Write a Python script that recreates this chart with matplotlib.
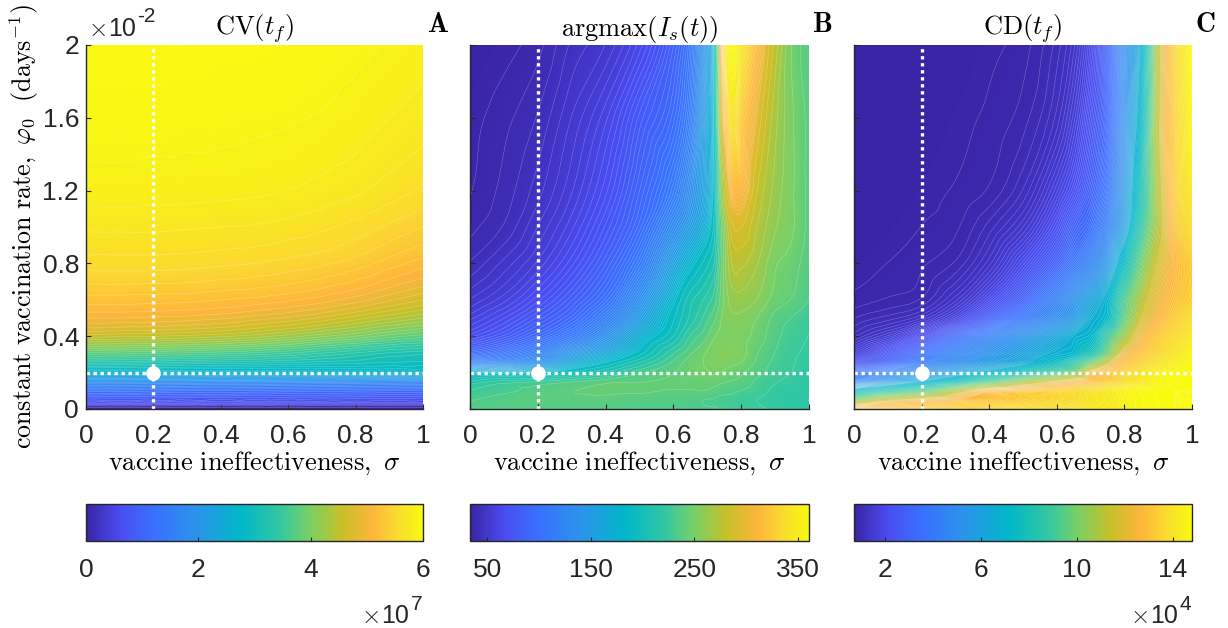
import numpy as np
import matplotlib
matplotlib.use("Agg")
import matplotlib.pyplot as plt
import matplotlib.tri as mtri
from matplotlib.colors import LinearSegmentedColormap, Normalize
from matplotlib.cm import ScalarMappable

plt.rcParams['font.family'] = ['Liberation Sans', 'DejaVu Sans']
plt.rcParams['mathtext.fontset'] = 'cm'

W, H = 1228, 628
DARK = '#262626'

cmap_colors = ['#3a24a6', '#4a4cf0', '#3a70ff', '#2a94ea', '#00b8c8',
               '#35c8a0', '#76d068', '#c8c028', '#feb53c', '#fad930', '#f8fa10']
cmap_stops = [0, 0.10, 0.20, 0.33, 0.46, 0.58, 0.66, 0.76, 0.85, 0.92, 1]
cmap = LinearSegmentedColormap.from_list('custom', list(zip(cmap_stops, cmap_colors)), N=512)

# CV(t_f), units of 1e7
sigma_a = [0, .1, .2, .3, .4, .5, .6, .7, .8, .9, 1]
phi_a = [0, .03, .06, .1, .15, .2, .25, .3, .4, .5, .6, .8, 1, 1.2, 1.6, 2]
cv_values = [
    [.05, .05, .05, .05, .05, .05, .05, .05, .05, .05, .05],
    [.45, .45, .45, .45, .44, .44, .43, .42, .41, .40, .40],
    [.80, .80, .80, .78, .77, .76, .75, .74, .73, .72, .70],
    [1.25, 1.25, 1.22, 1.20, 1.20, 1.18, 1.16, 1.14, 1.12, 1.10, 1.08],
    [1.85, 1.85, 1.83, 1.82, 1.80, 1.80, 1.78, 1.76, 1.75, 1.72, 1.70],
    [2.55, 2.55, 2.54, 2.54, 2.54, 2.55, 2.55, 2.56, 2.57, 2.58, 2.60],
    [3.20, 3.18, 3.15, 3.12, 3.10, 3.08, 3.05, 3.02, 3.00, 2.97, 2.95],
    [3.70, 3.68, 3.65, 3.62, 3.58, 3.52, 3.45, 3.35, 3.25, 3.15, 3.10],
    [4.55, 4.52, 4.50, 4.47, 4.42, 4.35, 4.25, 4.12, 4.00, 3.85, 3.75],
    [5.00, 5.00, 4.98, 4.96, 4.92, 4.85, 4.78, 4.68, 4.55, 4.42, 4.30],
    [5.25, 5.25, 5.24, 5.23, 5.20, 5.17, 5.12, 5.05, 4.95, 4.82, 4.70],
    [5.55, 5.55, 5.55, 5.54, 5.52, 5.50, 5.46, 5.42, 5.35, 5.25, 5.15],
    [5.72, 5.72, 5.72, 5.71, 5.70, 5.69, 5.66, 5.62, 5.56, 5.48, 5.40],
    [5.85, 5.85, 5.84, 5.84, 5.83, 5.82, 5.80, 5.76, 5.72, 5.65, 5.58],
    [5.94, 5.94, 5.94, 5.93, 5.93, 5.92, 5.91, 5.89, 5.85, 5.80, 5.75],
    [5.98, 5.98, 5.98, 5.98, 5.97, 5.97, 5.96, 5.95, 5.93, 5.89, 5.85],
]

# argmax(I_s(t)), days
sigma_b = [0, .1, .2, .3, .4, .5, .6, .65, .7, .72, .74, .77, .8, .85, .9, .95, 1]
phi_b = [0, .05, .1, .15, .2, .25, .3, .4, .5, .6, .8, 1, 1.2, 1.6, 2]
peak_values = [
    [236, 236, 236, 236, 236, 236, 235, 234, 233, 233, 232, 230, 228, 226, 222, 220, 218],
    [232, 236, 238, 238, 238, 236, 235, 234, 232, 232, 230, 228, 226, 224, 220, 218, 216],
    [225, 230, 236, 240, 242, 242, 240, 240, 240, 238, 236, 235, 232, 228, 222, 220, 218],
    [210, 220, 225, 232, 238, 240, 242, 244, 244, 244, 242, 240, 238, 230, 225, 222, 218],
    [175, 178, 180, 195, 210, 230, 240, 245, 248, 250, 248, 245, 242, 235, 228, 224, 220],
    [125, 128, 140, 165, 185, 210, 235, 245, 250, 252, 252, 250, 248, 238, 230, 225, 220],
    [95, 105, 120, 145, 165, 190, 225, 240, 250, 252, 255, 254, 252, 240, 232, 226, 222],
    [68, 78, 92, 110, 135, 170, 200, 225, 240, 248, 250, 252, 252, 245, 235, 228, 224],
    [57, 66, 78, 92, 115, 150, 190, 210, 230, 238, 248, 255, 255, 248, 238, 232, 226],
    [50, 57, 68, 82, 100, 135, 180, 205, 220, 228, 243, 260, 262, 256, 245, 240, 232],
    [42, 48, 56, 68, 85, 110, 155, 178, 198, 208, 238, 272, 275, 265, 250, 245, 235],
    [38, 42, 50, 60, 75, 95, 130, 150, 175, 195, 238, 285, 290, 272, 258, 250, 238],
    [36, 40, 46, 55, 68, 88, 112, 135, 165, 188, 250, 305, 310, 280, 262, 250, 238],
    [35, 38, 42, 50, 60, 78, 95, 115, 160, 185, 280, 340, 325, 295, 268, 250, 238],
    [33, 35, 38, 45, 50, 62, 85, 105, 150, 183, 300, 360, 345, 312, 278, 248, 235],
]

# CD(t_f), units of 1e4
sigma_c = [0, .1, .2, .3, .4, .5, .6, .65, .7, .75, .8, .85, .9, .95, 1]
phi_c = [0, .05, .1, .15, .2, .25, .3, .4, .5, .6, .8, 1, 1.2, 1.6, 2]
cd_values = [
    [13.0, 13.3, 13.5, 13.6, 13.7, 13.9, 14.0, 14.1, 14.2, 14.3, 14.5, 14.7, 14.8, 14.8, 14.8],
    [10.0, 11.3, 12.0, 12.6, 13.0, 13.3, 13.6, 13.7, 14.0, 14.2, 14.5, 14.7, 14.8, 14.8, 14.8],
    [7.2, 8.2, 9.2, 10.8, 12.4, 13.0, 13.4, 13.6, 13.9, 14.2, 14.5, 14.7, 14.8, 14.8, 14.8],
    [4.5, 5.6, 6.6, 7.7, 9.2, 10.6, 11.8, 12.3, 12.8, 13.3, 13.8, 14.2, 14.6, 14.8, 14.8],
    [3.5, 4.4, 5.2, 6.0, 6.9, 7.9, 9.2, 9.9, 12.0, 13.0, 13.5, 14.0, 14.5, 14.7, 14.8],
    [2.3, 3.1, 4.1, 5.0, 5.7, 6.4, 7.6, 8.5, 9.9, 11.5, 12.9, 13.5, 14.0, 14.4, 14.7],
    [1.7, 2.5, 3.5, 4.5, 5.3, 6.0, 6.8, 7.1, 8.2, 9.9, 12.2, 13.1, 13.6, 14.1, 14.6],
    [1.15, 1.5, 2.2, 3.2, 4.3, 5.2, 6.1, 6.6, 7.0, 8.8, 10.6, 12.3, 13.2, 13.7, 14.2],
    [.93, 1.05, 1.25, 1.8, 2.8, 3.9, 5.0, 5.6, 6.5, 7.2, 9.5, 11.5, 12.6, 13.3, 13.8],
    [.81, .87, .95, 1.3, 2.0, 3.0, 4.4, 5.2, 6.0, 6.9, 9.2, 11.0, 12.2, 13.0, 13.4],
    [.74, .78, .84, .95, 1.3, 2.0, 3.0, 3.7, 4.5, 5.5, 7.5, 9.8, 11.6, 12.7, 13.3],
    [.71, .74, .78, .84, 1.05, 1.4, 2.2, 2.9, 3.4, 4.4, 5.9, 8.6, 11.0, 13.0, 13.8],
    [.7, .72, .75, .79, .87, 1.1, 1.7, 2.2, 2.9, 3.8, 5.5, 8.0, 11.0, 13.3, 14.2],
    [.7, .7, .72, .75, .8, .9, 1.2, 1.6, 2.3, 3.2, 5.0, 7.2, 11.2, 13.4, 14.6],
    [.7, .7, .7, .72, .76, .82, 1.05, 1.3, 1.9, 3.0, 4.9, 6.7, 11.0, 13.5, 14.8],
]

titles = [r'$\mathrm{CV}(t_f)$', r'$\mathrm{argmax}(I_s(t))$', r'$\mathrm{CD}(t_f)$']
letters = ['A', 'B', 'C']
x_ticks = [0, .2, .4, .6, .8, 1]
x_labels = ['0', '0.2', '0.4', '0.6', '0.8', '1']
y_ticks = [0, .4, .8, 1.2, 1.6, 2]
y_labels = ['0', '0.4', '0.8', '1.2', '1.6', '2']
baseline_sigma = 0.2
baseline_phi = 0.2

panels = [
    (sigma_a, phi_a, cv_values, 0, 6, 61, [0, 2, 4, 6]),
    (sigma_b, phi_b, peak_values, 33.5, 360.5, 121, [50, 150, 250, 350]),
    (sigma_c, phi_c, cd_values, 0.7, 14.8, 181, [2, 6, 10, 14]),
]
axes_left = [86, 470, 854]
axes_width = [337, 339, 338]
letter_x = [427, 812, 1195]
# value ranges with thinned contour lines, the steep bands smear white otherwise
thin_lines = [None, (185, 300, 3), (6.5, 11.5, 2)]


def box(left, top, right, bottom):
    return [left / W, 1 - bottom / H, (right - left) / W, (bottom - top) / H]


fig = plt.figure(figsize=(W / 100, H / 100), dpi=100)

for i, (sx, sy, z, vmin, vmax, nlev, cticks) in enumerate(panels):
    ax = fig.add_axes(box(axes_left[i], 45, axes_left[i] + axes_width[i], 409))
    xx, yy = np.meshgrid(sx, sy)
    triang = mtri.Triangulation(xx.ravel(), yy.ravel())
    # smooth the table for drawing, in log space so the low plateau does not ring
    log_z = np.log(np.array(z, dtype=float).ravel())
    smooth = mtri.CubicTriInterpolator(triang, log_z, kind='geom')
    fine_tri, fine_log = mtri.UniformTriRefiner(triang).refine_field(log_z, smooth, subdiv=3)
    fine_z = np.exp(fine_log)
    ax.tricontourf(fine_tri, fine_z, levels=np.linspace(vmin, vmax, 300), cmap=cmap, extend='both')
    line_levels = np.linspace(vmin, vmax, nlev)[1:]
    if thin_lines[i] is not None:
        low, high, step = thin_lines[i]
        keep = (line_levels < low) | (line_levels > high) | (np.arange(len(line_levels)) % step == 0)
        line_levels = line_levels[keep]
    ax.tricontour(fine_tri, fine_z, levels=line_levels, colors='white', linewidths=0.4, alpha=0.3)
    ax.plot([baseline_sigma, baseline_sigma], [0, 2], color='white', ls=(0, (1, 1.1)), lw=2.4)
    ax.plot([0, 1], [baseline_phi, baseline_phi], color='white', ls=(0, (1, 1.1)), lw=2.4)
    ax.plot(baseline_sigma, baseline_phi, 'o', color='white', ms=9.5)
    ax.set_xlim(0, 1)
    ax.set_ylim(0, 2)
    ax.set_xticks(x_ticks)
    ax.set_xticklabels(x_labels)
    ax.set_yticks(y_ticks)
    ax.set_yticklabels(y_labels if i == 0 else [])
    ax.tick_params(direction='in', length=3.5, width=0.8, labelsize=19, colors=DARK)
    ax.tick_params(axis='x', pad=11)
    ax.tick_params(axis='y', pad=5)
    ax.spines['top'].set_visible(False)
    ax.spines['right'].set_visible(False)
    ax.spines['left'].set_color(DARK)
    ax.spines['bottom'].set_color(DARK)
    ax.spines['left'].set_linewidth(1.0)
    ax.spines['bottom'].set_linewidth(1.0)
    ax.set_xlabel(r'$\mathrm{vaccine\ ineffectiveness,}\ \sigma$', fontsize=19, color='black', labelpad=1)
    if i == 0:
        ax.set_ylabel(r'$\mathrm{constant\ vaccination\ rate,}\ \varphi_0\ \ (\mathrm{days}^{-1})$',
                      fontsize=18.7, color='black')
        ax.yaxis.set_label_coords(-0.135, 0.5)
    ax.set_title(titles[i], fontsize=19, pad=3)
    fig.text(letter_x[i] / W, 1 - 25 / H, r'$\mathbf{' + letters[i] + '}$', fontsize=20, va='center')

    cax = fig.add_axes(box(axes_left[i], 504, axes_left[i] + axes_width[i], 541))
    cb = fig.colorbar(ScalarMappable(Normalize(vmin, vmax), cmap), cax=cax, orientation='horizontal')
    cb.set_ticks(cticks)
    cb.ax.tick_params(direction='in', length=3, width=0.8, labelsize=19, colors=DARK, pad=12)
    cb.outline.set_edgecolor(DARK)
    cb.outline.set_linewidth(1.0)

# exponent labels
fig.text(88 / W, 1 - 29 / H, r'$\times$', fontsize=18, color=DARK, va='center')
fig.text(108 / W, 1 - 29 / H, '10', fontsize=18, color=DARK, va='center')
fig.text(137 / W, 1 - 17 / H, '-2', fontsize=15, color=DARK, va='center')
fig.text(361 / W, 1 - 616 / H, r'$\times$', fontsize=18, color=DARK, va='center')
fig.text(381 / W, 1 - 616 / H, '10', fontsize=18, color=DARK, va='center')
fig.text(411 / W, 1 - 604 / H, '7', fontsize=15, color=DARK, va='center')
fig.text(1130 / W, 1 - 616 / H, r'$\times$', fontsize=18, color=DARK, va='center')
fig.text(1150 / W, 1 - 616 / H, '10', fontsize=18, color=DARK, va='center')
fig.text(1180 / W, 1 - 604 / H, '4', fontsize=15, color=DARK, va='center')

fig.savefig('out.png', dpi=100)
